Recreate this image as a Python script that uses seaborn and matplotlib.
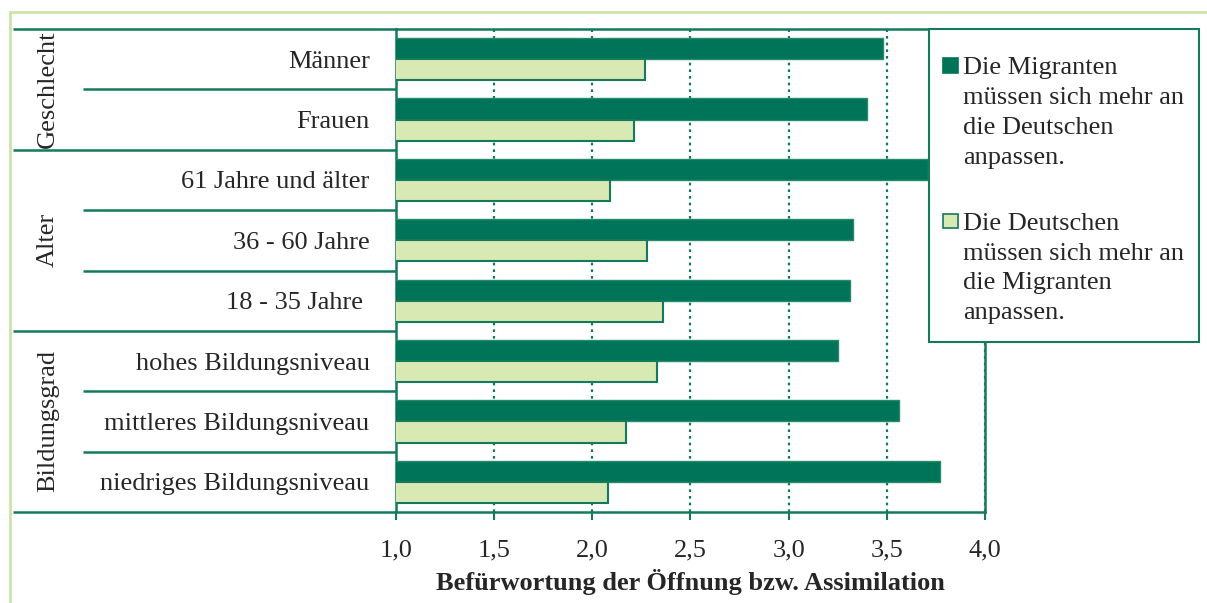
import pandas as pd
import matplotlib.pyplot as plt
import seaborn as sns
from matplotlib.patches import Rectangle
from matplotlib.legend_handler import HandlerPatch

kategorien = ['Männer', 'Frauen', '61 Jahre und älter', '36 - 60 Jahre', '18 - 35 Jahre ',
              'hohes Bildungsniveau', 'mittleres Bildungsniveau', 'niedriges Bildungsniveau']
gruppen = ['Geschlecht', 'Alter', 'Bildungsgrad']
gruppen_groesse = [2, 3, 3]
serien = ['Die Migranten\nmüssen sich mehr an\ndie Deutschen\nanpassen.',
          'Die Deutschen\nmüssen sich mehr an\ndie Migranten\nanpassen.']
werte_migranten = [3.48, 3.40, 3.71, 3.33, 3.31, 3.25, 3.56, 3.77]
werte_deutsche = [2.27, 2.21, 2.09, 2.28, 2.36, 2.33, 2.17, 2.08]
x_ticks = [1.0, 1.5, 2.0, 2.5, 3.0, 3.5, 4.0]
x_tick_labels = ['1,0', '1,5', '2,0', '2,5', '3,0', '3,5', '4,0']
x_label = 'Befürwortung der Öffnung bzw. Assimilation'

DUNKEL = '#007458'
HELL = '#d9e9b4'
LINIE = '#137a5c'
RAHMEN = '#cde4a8'
FS = 19
ZEILE = 1.47  # Zeilenabstand in der Legende

df = pd.DataFrame({
    'Kategorie': kategorien * 2,
    'Serie': [serien[0]] * len(kategorien) + [serien[1]] * len(kategorien),
    'Wert': werte_migranten + werte_deutsche,
})

sns.set_theme(style='white')
plt.rcParams['font.family'] = ['Liberation Serif', 'DejaVu Serif']

W, H = 1207, 603
fig = plt.figure(figsize=(W / 100, H / 100), dpi=100)
ax = fig.add_axes([396 / W, 1 - 512 / H, 589 / W, 483 / H])

sns.barplot(data=df, x='Wert', y='Kategorie', hue='Serie', orient='h',
            palette=[DUNKEL, HELL], saturation=1, width=0.7, ax=ax)

# Randfarben der Balken
for cont, ec, lw in zip(ax.containers, ['#2a8a6c', LINIE], [1.0, 1.5]):
    for bar in cont:
        bar.set_edgecolor(ec)
        bar.set_linewidth(lw)
        bar.set_zorder(3)

ax.set_xlim(1, 4)
ax.set_ylim(len(kategorien) - 0.5, -0.5)
ax.set_xticks(x_ticks)
ax.set_xticklabels(x_tick_labels, fontsize=FS)
ax.set_xlabel(x_label, fontsize=FS, fontweight='bold', labelpad=5)
ax.set_ylabel('')
ax.tick_params(axis='x', length=6, width=1.5, color=LINIE, pad=14, bottom=True)
ax.tick_params(axis='y', length=0, pad=19, labelsize=FS)
ax.grid(axis='x', color=LINIE, linestyle=(0, (1.2, 1.8)), linewidth=1.6)
ax.grid(axis='y', visible=False)
ax.set_axisbelow(True)
for s in ax.spines.values():
    s.set_visible(True)
    s.set_color(LINIE)
    s.set_linewidth(1.8)

# Trennlinien und Gruppennamen links neben der Achse
tr = ax.get_yaxis_transform()
grenzen = [-0.5]
pos = -0.5
for g, n in zip(gruppen, gruppen_groesse):
    ax.text(-0.591, pos + n / 2, g, transform=tr, rotation=90, ha='center', va='center',
            fontsize=FS)
    for k in range(1, n):
        ax.plot([-0.5314, 0], [pos + k, pos + k], transform=tr, color=LINIE,
                lw=1.8, clip_on=False, solid_capstyle='butt')
    pos += n
    grenzen.append(pos)
for y in grenzen:
    ax.plot([-0.6503, 0], [y, y], transform=tr, color=LINIE, lw=1.8,
            clip_on=False, solid_capstyle='butt')

# Legendenkasten
ax.add_patch(Rectangle((929 / W, 1 - 342 / H), 270 / W, 313 / H, transform=fig.transFigure,
                       facecolor='white', edgecolor=LINIE, linewidth=1.5,
                       clip_on=False, zorder=4))


# Kästchen auf Höhe der ersten Textzeile
def kaestchen(legend, orig_handle, xdescent, ydescent, width, height, fontsize):
    versatz = 1.5 * ZEILE * 0.8 * fontsize
    return Rectangle((-xdescent, -ydescent + height / 2 - width / 2 + versatz),
                     width, width)


handles = ax.get_legend().legend_handles
leg = ax.legend(handles, serien, loc='upper left', bbox_to_anchor=(943 / W, 1 - 57 / H),
                bbox_transform=fig.transFigure, borderaxespad=0, borderpad=0,
                fontsize=FS, frameon=False,
                handlelength=0.55, handleheight=0.55, handletextpad=0.2,
                labelspacing=1.65,
                handler_map={h: HandlerPatch(patch_func=kaestchen) for h in handles})
leg.set_zorder(5)
for t in leg.get_texts():
    t.set_linespacing(ZEILE)
for h, ec in zip(leg.legend_handles, [DUNKEL, LINIE]):
    h.set_edgecolor(ec)
    h.set_linewidth(1.2)

# heller Außenrahmen
fig.patches.append(Rectangle((9.5 / W, -0.1), 1.2, 1.1 - 12 / H, transform=fig.transFigure,
                             fill=False, edgecolor=RAHMEN, linewidth=2))

fig.savefig('out.png', dpi=100)
